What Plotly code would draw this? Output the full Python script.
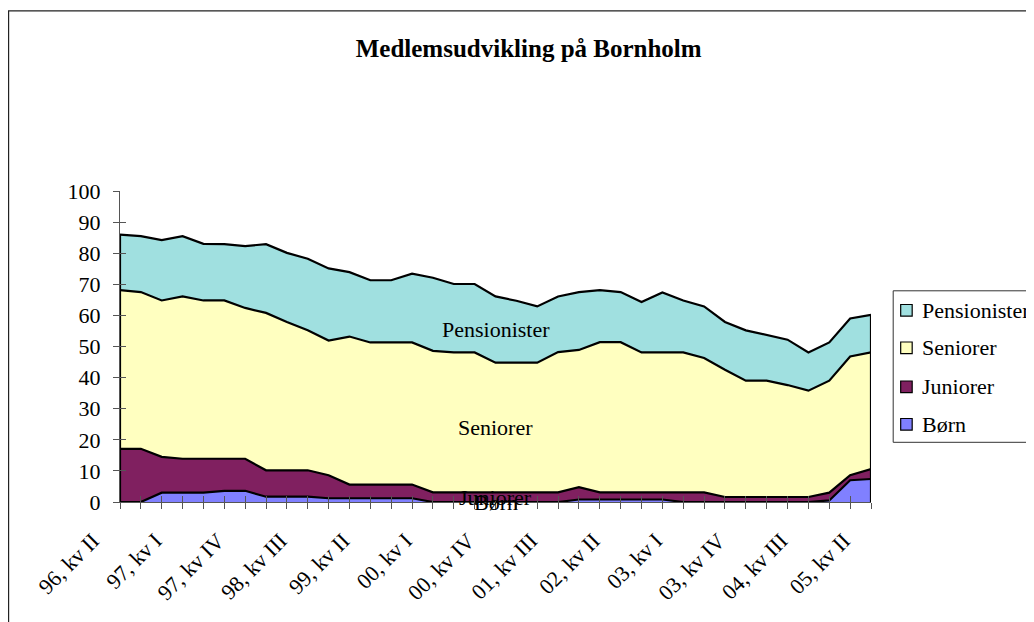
import plotly.graph_objects as go

quarters = [
    "96, kv II", "96, kv III", "96, kv IV",
    "97, kv I", "97, kv II", "97, kv III", "97, kv IV",
    "98, kv I", "98, kv II", "98, kv III", "98, kv IV",
    "99, kv I", "99, kv II", "99, kv III", "99, kv IV",
    "00, kv I", "00, kv II", "00, kv III", "00, kv IV",
    "01, kv I", "01, kv II", "01, kv III", "01, kv IV",
    "02, kv I", "02, kv II", "02, kv III", "02, kv IV",
    "03, kv I", "03, kv II", "03, kv III", "03, kv IV",
    "04, kv I", "04, kv II", "04, kv III", "04, kv IV",
    "05, kv I", "05, kv II",
]

born = [0, 0, 3.0, 3.0, 3.0, 3.6, 3.6, 1.7, 1.7, 1.7, 1.2, 1.2, 1.2, 1.2, 1.2,
        0, 0, 0, 0, 0, 0, 0, 0.8, 0.8, 0.8, 0.8, 0.8, 0, 0, 0, 0, 0, 0, 0,
        0.5, 7.0, 7.4]
juniorer = [17.1, 17.1, 11.5, 10.9, 10.9, 10.3, 10.3, 8.5, 8.5, 8.5, 7.4, 4.4,
            4.4, 4.4, 4.4, 3.1, 3.1, 3.1, 3.1, 3.1, 3.1, 3.1, 4.0, 2.3, 2.3,
            2.3, 2.3, 3.1, 3.1, 1.6, 1.6, 1.6, 1.6, 1.6, 2.5, 1.6, 3.2]
seniorer = [51.0, 50.4, 50.3, 52.2, 50.9, 50.9, 48.5, 50.6, 47.7, 45.0, 43.3,
            47.6, 45.7, 45.7, 45.7, 45.5, 45.0, 45.0, 41.7, 41.7, 41.7, 45.1,
            44.1, 48.3, 48.3, 45.0, 45.0, 45.0, 43.2, 40.9, 37.4, 37.4, 36.0,
            34.2, 36.0, 38.2, 37.5]
pensionister = [17.9, 18.0, 19.4, 19.4, 18.2, 18.1, 19.9, 22.1, 22.2, 23.0,
                23.2, 20.7, 20.0, 20.0, 22.1, 23.5, 22.0, 22.0, 21.3, 19.9,
                18.1, 17.9, 18.6, 16.7, 16.1, 16.2, 19.3, 16.7, 16.6, 15.4,
                16.2, 14.8, 14.6, 12.3, 12.3, 12.2, 12.1]

series_names = ["Børn", "Juniorer", "Seniorer", "Pensionister"]
series_values = [born, juniorer, seniorer, pensionister]
series_colors = ["#8080FF", "#802060", "#FFFFC0", "#A0E0E0"]

y_ticks = [0, 10, 20, 30, 40, 50, 60, 70, 80, 90, 100]

FONT = "Liberation Serif, Times New Roman, serif"
W_FIG, H_FIG = 1034, 622
OFF = 8  # page body margin offset
PL, PR, PT, PB = 120, 871.3, 190.7, 501.7  # plot area in page pixels
L = PL - OFF
R = W_FIG - (PR - OFF)
T = PT - OFF
B = H_FIG - (PB - OFF)
PW = PR - PL
PH = PB - PT


def px_x(px):
    return (px - PL) / PW


def px_y(py):
    return (PB - py) / PH


idx = list(range(len(quarters)))
fig = go.Figure()

for name, vals, col in zip(series_names, series_values, series_colors):
    fig.add_trace(go.Scatter(
        x=idx, y=vals, name=name, stackgroup="one", mode="lines",
        line=dict(color="black", width=2.2), fillcolor=col,
        showlegend=False, hoverinfo="skip",
    ))

totals = [sum(v) for v in zip(*series_values)]
for i in (0, len(idx) - 1):
    fig.add_trace(go.Scatter(
        x=[idx[i], idx[i]], y=[0, totals[i]], mode="lines",
        line=dict(color="black", width=2.2), showlegend=False, hoverinfo="skip",
    ))

# dummy trace for overlay axes (cross ticks)
fig.add_trace(go.Scatter(x=[0], y=[0], xaxis="x2", yaxis="y2", mode="markers",
                         marker=dict(opacity=0), showlegend=False, hoverinfo="skip"))

# data labels (series names) at middle category
mid = len(idx) // 2
cum = 0
for name, vals in zip(series_names, series_values):
    fig.add_annotation(x=idx[mid], y=cum + vals[mid] / 2, text=name,
                       showarrow=False, xref="x", yref="y",
                       font=dict(family=FONT, size=22, color="black"))
    cum += vals[mid]

pad = "\u00a0" * 7
axis_col = "#555555"
fig.update_layout(
    width=W_FIG, height=H_FIG,
    margin=dict(l=L, r=R, t=T, b=B, pad=0, autoexpand=False),
    paper_bgcolor="white", plot_bgcolor="white",
    title=dict(text="<b>Medlemsudvikling på Bornholm</b>",
               x=(528.7 - OFF) / W_FIG, xanchor="center",
               y=1 - (48 - OFF) / H_FIG, yanchor="middle",
               font=dict(family=FONT, size=25, color="black")),
    xaxis=dict(range=[0, len(idx) - 1], tickvals=idx,
               ticktext=[q + pad if i % 3 == 0 else "" for i, q in enumerate(quarters)],
               tickangle=-45, ticks="outside", ticklen=6, tickcolor=axis_col,
               showline=True, linecolor=axis_col, linewidth=1,
               showgrid=False, zeroline=False, ticklabelstandoff=-17,
               automargin=False,
               tickfont=dict(family=FONT, size=22, color="black")),
    yaxis=dict(range=[0, 100], tickvals=y_ticks, ticks="outside", ticklen=6,
               tickcolor=axis_col, showline=True, linecolor=axis_col,
               linewidth=1, showgrid=False, zeroline=False,
               ticklabelstandoff=8, automargin=False,
               tickfont=dict(family=FONT, size=22, color="black")),
    xaxis2=dict(overlaying="x", anchor="y", range=[0, len(idx) - 1],
                tickvals=idx, ticks="inside", ticklen=6, tickcolor=axis_col,
                showticklabels=False, showgrid=False, zeroline=False,
                showline=False, side="bottom", automargin=False),
    yaxis2=dict(overlaying="y", anchor="x", range=[0, 100], tickvals=y_ticks,
                ticks="inside", ticklen=6, tickcolor=axis_col,
                showticklabels=False, showgrid=False, zeroline=False,
                showline=False, side="left", automargin=False),
)

shapes = [
    # outer chart frame
    dict(type="rect", xref="paper", yref="paper",
         x0=px_x(8.5), x1=px_x(1060), y0=px_y(660), y1=px_y(10.5),
         line=dict(color="#222222", width=1.3), fillcolor="rgba(0,0,0,0)",
         layer="below"),
    # legend box
    dict(type="rect", xref="paper", yref="paper",
         x0=px_x(893.5), x1=px_x(1060), y0=px_y(442), y1=px_y(290.5),
         line=dict(color="#333333", width=1), fillcolor="white"),
]

legend_rows = [310, 347.5, 386.5, 424]
for (name, col), ry in zip(list(zip(series_names, series_colors))[::-1], legend_rows):
    shapes.append(dict(type="rect", xref="paper", yref="paper",
                       x0=px_x(901), x1=px_x(912.5),
                       y0=px_y(ry + 5.8), y1=px_y(ry - 5.8),
                       line=dict(color="black", width=1.2), fillcolor=col))
    fig.add_annotation(x=px_x(920.5), y=px_y(ry), xref="paper", yref="paper",
                       text=name, showarrow=False, xanchor="left",
                       yanchor="middle",
                       font=dict(family=FONT, size=22, color="black"))

fig.update_layout(shapes=shapes)
fig.write_html("out.html")
